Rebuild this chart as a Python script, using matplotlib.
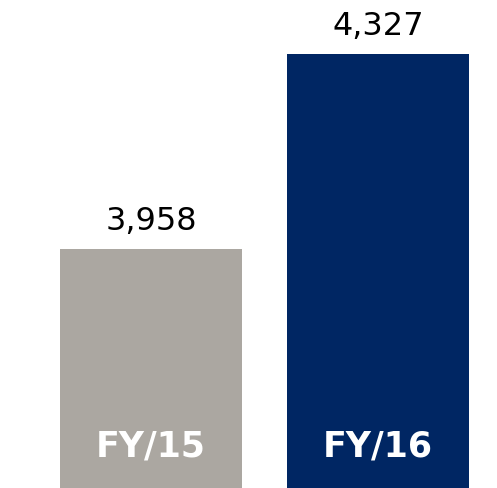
import matplotlib.pyplot as plt
import matplotlib.transforms as mtransforms

# data
years = ['FY/15', 'FY/16']
values = [3958, 4327]
colors = ['#aba7a1', '#002663']

fig = plt.figure(figsize=(4.97, 4.89), dpi=100)
ax = fig.add_axes([0, 0, 1, 1])

x = range(len(years))
bars = ax.bar(x, values, width=0.8, color=colors, bottom=0)

ax.set_xlim(-0.665, 1.524)
ax.set_ylim(3506, 4431)
ax.axis('off')

# value labels above bars
for xi, v in zip(x, values):
    ax.annotate(f'{v:,}', (xi, v), xytext=(0, 20.5), textcoords='offset points',
                ha='center', va='center', fontsize=23, color='black')

# category labels inside bars, near the bottom
trans = mtransforms.blended_transform_factory(ax.transData, ax.transAxes)
for xi, name in zip(x, years):
    ax.text(xi, 0.086, name, transform=trans, ha='center', va='center',
            fontsize=25, fontweight='bold', color='white')

fig.savefig('out.png', dpi=100)
